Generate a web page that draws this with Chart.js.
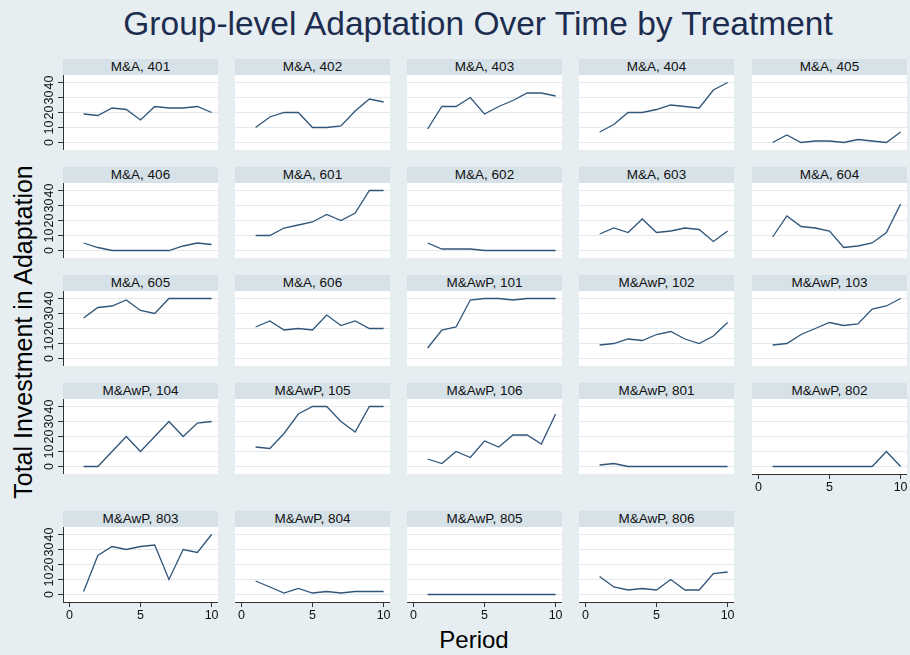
<!DOCTYPE html>
<html>
<head>
<meta charset="utf-8">
<title>Group-level Adaptation Over Time by Treatment</title>
<script src="https://cdn.jsdelivr.net/npm/chart.js@4.4.0/dist/chart.umd.min.js"></script>
<style>
body {
	margin: 0;
	padding: 0;
	font-family: "Liberation Sans", Arial, sans-serif;
}
#page {
	position: relative;
	width: 910px;
	height: 655px;
	background-color: #e6eef1;
	overflow: hidden;
}
#title {
	position: absolute;
	left: 0;
	top: 5px;
	width: 956px;
	text-align: center;
	font-size: 33.5px;
	color: #1d2d50;
	white-space: nowrap;
}
#ytitle {
	position: absolute;
	left: 23px;
	top: 332px;
	transform: translate(-50%, -50%) rotate(-90deg);
	font-size: 25px;
	white-space: nowrap;
	color: #000;
}
#xtitle {
	position: absolute;
	left: 474px;
	top: 626px;
	transform: translateX(-50%);
	font-size: 24px;
	color: #000;
}
.strip {
	position: absolute;
	height: 16px;
	width: 155px;
	background-color: #d6e1e8;
	font-size: 13.5px;
	line-height: 16px;
	text-align: center;
	color: #111;
	white-space: nowrap;
}
canvas {
	position: absolute;
}
</style>
<script>
// data
const periods = [1, 2, 3, 4, 5, 6, 7, 8, 9, 10];
const xTicks = [0, 5, 10];
const yTicks = [0, 10, 20, 30, 40];

const treatments = ['M&A', 'M&A', 'M&A', 'M&A', 'M&A', 'M&A', 'M&A', 'M&A', 'M&A', 'M&A', 'M&A', 'M&A',
	'M&AwP', 'M&AwP', 'M&AwP', 'M&AwP', 'M&AwP', 'M&AwP', 'M&AwP', 'M&AwP', 'M&AwP', 'M&AwP', 'M&AwP', 'M&AwP'];
const groups = [401, 402, 403, 404, 405, 406, 601, 602, 603, 604, 605, 606,
	101, 102, 103, 104, 105, 106, 801, 802, 803, 804, 805, 806];

const g401 = [19, 18, 23, 22, 15, 24, 23, 23, 24, 20];
const g402 = [10, 17, 20, 20, 10, 10, 11, 21, 29, 27];
const g403 = [9, 24, 24, 30, 19, 24, 28, 33, 33, 31];
const g404 = [7, 12, 20, 20, 22, 25, 24, 23, 35, 40];
const g405 = [0, 5, 0, 1, 1, 0, 2, 1, 0, 7];
const g406 = [5, 2, 0, 0, 0, 0, 0, 3, 5, 4];
const g601 = [10, 10, 15, 17, 19, 24, 20, 25, 40, 40];
const g602 = [5, 1, 1, 1, 0, 0, 0, 0, 0, 0];
const g603 = [11, 15, 12, 21, 12, 13, 15, 14, 6, 13];
const g604 = [9, 23, 16, 15, 13, 2, 3, 5, 12, 31];
const g605 = [27, 34, 35, 39, 32, 30, 40, 40, 40, 40];
const g606 = [21, 25, 19, 20, 19, 29, 22, 25, 20, 20];
const g101 = [7, 19, 21, 39, 40, 40, 39, 40, 40, 40];
const g102 = [9, 10, 13, 12, 16, 18, 13, 10, 15, 24];
const g103 = [9, 10, 16, 20, 24, 22, 23, 33, 35, 40];
const g104 = [0, 0, 10, 20, 10, 20, 30, 20, 29, 30];
const g105 = [13, 12, 22, 35, 40, 40, 30, 23, 40, 40];
const g106 = [5, 2, 10, 6, 17, 13, 21, 21, 15, 35];
const g801 = [1, 2, 0, 0, 0, 0, 0, 0, 0, 0];
const g802 = [0, 0, 0, 0, 0, 0, 0, 0, 10, 0];
const g803 = [2, 26, 32, 30, 32, 33, 10, 30, 28, 40];
const g804 = [9, 5, 1, 4, 1, 2, 1, 2, 2, 2];
const g805 = [0, 0, 0, 0, 0, 0, 0, 0, 0, 0];
const g806 = [12, 5, 3, 4, 3, 10, 3, 3, 14, 15];

const series = [g401, g402, g403, g404, g405, g406, g601, g602, g603, g604, g605, g606,
	g101, g102, g103, g104, g105, g106, g801, g802, g803, g804, g805, g806];

// panel grid
const colLeft = [63, 235, 407, 579, 752];
const rowTop = [75, 183, 291, 399, 527];
const plotW = 155;
const plotH = 75;
const yAxisW = 30;
const xAxisH = 26;

const plotBg = {
	id: 'plotBg',
	beforeDraw(chart) {
		const a = chart.chartArea;
		const c = chart.ctx;
		c.save();
		c.fillStyle = '#ffffff';
		c.fillRect(a.left, a.top, a.right - a.left, a.bottom - a.top);
		c.restore();
	}
};

window.onload = function() {
	const page = document.getElementById('page');
	const font = { family: '"Liberation Sans", Arial, sans-serif', size: 12.5 };

	for (let i = 0; i < series.length; i++) {
		const row = Math.floor(i / 5);
		const col = i % 5;
		const showY = col === 0;
		const showX = row === 4 || (row === 3 && col === 4);

		const strip = document.createElement('div');
		strip.className = 'strip';
		strip.style.left = colLeft[col] + 'px';
		strip.style.top = (rowTop[row] - 16) + 'px';
		strip.textContent = treatments[i] + ', ' + groups[i];
		page.appendChild(strip);

		const cv = document.createElement('canvas');
		const w = plotW + (showY ? yAxisW : 0);
		const h = plotH + (showX ? xAxisH : 0);
		cv.width = w;
		cv.height = h;
		cv.style.width = w + 'px';
		cv.style.height = h + 'px';
		cv.style.left = (colLeft[col] - (showY ? yAxisW : 0)) + 'px';
		cv.style.top = rowTop[row] + 'px';
		page.appendChild(cv);

		new Chart(cv, {
			type: 'line',
			data: {
				labels: periods,
				datasets: [{
					data: series[i],
					borderColor: '#30557a',
					borderWidth: 1.3,
					pointRadius: 0,
					tension: 0,
					fill: false
				}]
			},
			options: {
				responsive: false,
				animation: false,
				devicePixelRatio: 1,
				layout: { padding: 0 },
				plugins: {
					legend: { display: false },
					tooltip: { enabled: false }
				},
				scales: {
					x: {
						type: 'linear',
						min: -0.45,
						max: 10.45,
						afterBuildTicks: s => { s.ticks = xTicks.map(v => ({ value: v })); },
						afterFit: s => {
							s.height = showX ? xAxisH : 0;
							s.paddingLeft = 0;
							s.paddingRight = 0;
						},
						grid: { display: showX, drawOnChartArea: false, drawTicks: true, tickLength: 5, tickColor: '#333' },
						border: { display: showX, color: '#333', width: 1 },
						ticks: { display: showX, padding: 1, maxRotation: 0, autoSkip: false, color: '#111', font: font }
					},
					y: {
						min: -5,
						max: 45,
						afterBuildTicks: s => { s.ticks = yTicks.map(v => ({ value: v })); },
						afterFit: s => {
							s.width = showY ? yAxisW : 0;
							s.paddingTop = 0;
							s.paddingBottom = 0;
						},
						grid: { color: '#e2eaee', lineWidth: 1, drawTicks: showY, tickLength: 5, tickColor: '#333' },
						border: { display: showY, color: '#333', width: 1 },
						ticks: {
							display: showY,
							minRotation: 90,
							maxRotation: 90,
							crossAlign: 'center',
							padding: 2,
							autoSkip: false,
							color: '#111',
							font: font
						}
					}
				}
			},
			plugins: [plotBg]
		});
	}
};
</script>
</head>
<body>
<div id="page">
	<div id="title">Group-level Adaptation Over Time by Treatment</div>
	<div id="ytitle">Total Investment in Adaptation</div>
	<div id="xtitle">Period</div>
</div>
</body>
</html>
